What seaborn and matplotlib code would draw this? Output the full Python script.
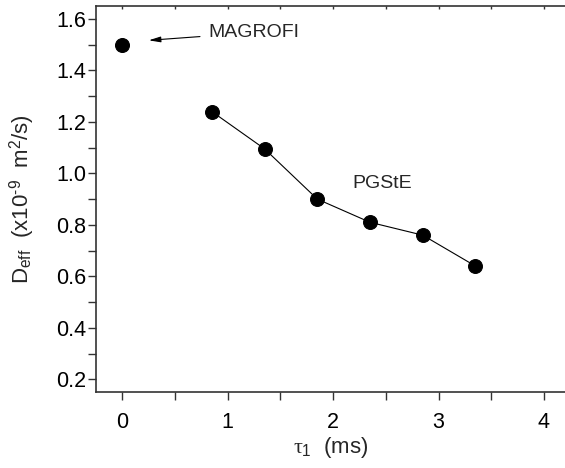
import numpy as np
import pandas as pd
import seaborn as sns
import matplotlib.pyplot as plt
from matplotlib.ticker import MultipleLocator

# data
magrofi_tau = [0.0]
magrofi_deff = [1.50]
pgste_tau = [0.85, 1.35, 1.85, 2.35, 2.85, 3.35]
pgste_deff = [1.24, 1.095, 0.90, 0.81, 0.76, 0.64]

sns.set_style("ticks")
plt.rcParams['font.family'] = ['Liberation Sans', 'DejaVu Sans']
plt.rcParams['mathtext.fontset'] = 'custom'
plt.rcParams['mathtext.rm'] = 'Liberation Sans'
plt.rcParams['mathtext.it'] = 'Liberation Serif'
plt.rcParams['axes.unicode_minus'] = False

df = pd.DataFrame({'tau': pgste_tau, 'deff': pgste_deff})

fig = plt.figure(figsize=(5.65, 4.68), dpi=100)
ax = fig.add_axes([0.170, 0.162, 0.83, 0.825])

sns.lineplot(data=df, x='tau', y='deff', color='black', linewidth=0.8,
             marker='o', markersize=10, markeredgecolor='black', ax=ax)
sns.scatterplot(x=magrofi_tau, y=magrofi_deff, color='black', s=100,
                edgecolor='black', ax=ax, zorder=3)

ax.annotate('MAGROFI', xy=(0.25, 1.517), xytext=(0.82, 1.547),
            fontsize=14, va='center', ha='left',
            arrowprops=dict(arrowstyle='-|>,head_length=0.5,head_width=0.12',
                            color='black', lw=0.8, shrinkA=4, shrinkB=0))
ax.text(2.18, 0.96, 'PGStE', fontsize=14, va='center', ha='left')

ax.set_xlim(-0.25, 4.2)
ax.set_ylim(0.15, 1.65)
ax.xaxis.set_major_locator(MultipleLocator(1))
ax.xaxis.set_minor_locator(MultipleLocator(0.5))
ax.yaxis.set_major_locator(MultipleLocator(0.2))
ax.yaxis.set_minor_locator(MultipleLocator(0.1))
ax.yaxis.set_major_formatter(plt.FormatStrFormatter('%.1f'))

ax.tick_params(which='both', direction='out', length=6, width=1,
               labelsize=15.5, color='#333333', labelcolor='black')
ax.tick_params(axis='x', which='both', pad=8)
ax.tick_params(axis='y', which='both', pad=1)

# short inward ticks along the top frame
top = ax.secondary_xaxis('top')
top.xaxis.set_major_locator(MultipleLocator(0.5))
top.tick_params(direction='in', length=2, width=1, color='#333333', labeltop=False)
top.spines['top'].set_color('#333333')
top.spines['top'].set_linewidth(1.2)

ax.spines['right'].set_visible(False)
ax.spines['top'].set_visible(False)
for s in ['left', 'bottom']:
    ax.spines[s].set_color('#333333')
    ax.spines[s].set_linewidth(1.2)

ax.set_xlabel('$\\mathit{\\tau}_1$  (ms)', fontsize=16, labelpad=2)
ax.set_ylabel('D$_{\\rm eff}$  (x10$^{\u2010 9}$  m$^2$/s)', fontsize=16, labelpad=14)

fig.savefig('out.png', dpi=100)
